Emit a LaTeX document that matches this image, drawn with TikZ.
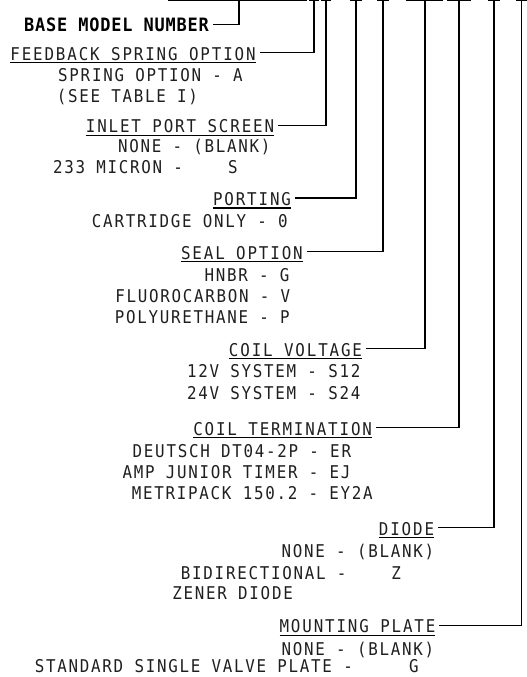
\documentclass[tikz,border=0pt]{standalone}
\usepackage{fontspec}
\usetikzlibrary{calc}
\newfontfamily\cadbodyfont{DejaVu Sans Mono}[FakeStretch=0.9,LetterSpace=9.8]
\newfontfamily\cadheadfont{DejaVu Sans Mono}[FakeStretch=0.9,LetterSpace=10.6]
\newfontfamily\cadboldfont{DejaVu Sans Mono}[FakeStretch=0.92,LetterSpace=4.5]
\tikzset{
  txt/.style={inner sep=0pt, outer sep=0pt, anchor=base, text=black!88},
  bodytxt/.style={txt, font=\cadbodyfont\fontsize{17.6}{20}\selectfont},
  headtxt/.style={txt, font=\cadheadfont\fontsize{17.6}{20}\selectfont},
  boldtxt/.style={txt, text=black, font=\cadboldfont\bfseries\fontsize{18.4}{21}\selectfont},
  wire/.style={line width=1.25pt, black},
  uline/.style={line width=1.1pt, black},
  topseg/.style={line width=1.3pt, black},
}
\newcommand\cadunder[1]{\draw[uline] ($(#1.base west)+(0,2.5)$) -- ($(#1.base east)+(0,2.5)$);}
\newcommand\cadconn[2]{\coordinate (#1-c) at ($(#1.base east)+(4,-7.5)$); \draw[wire] (#1-c) -| (#2);}
\begin{document}
\begin{tikzpicture}[x=1pt,y=-1pt]
\useasboundingbox (0,0) rectangle (527,677);
% top code positions
\coordinate (tbase) at (239,0.3);
\coordinate (tfeed) at (314,0.3);
\coordinate (tinlet) at (326,0.3);
\coordinate (tport) at (356,0.3);
\coordinate (tseal) at (383,0.3);
\coordinate (tcv) at (425,0.3);
\coordinate (tct) at (459,0.3);
\coordinate (tdi) at (494,0.3);
\coordinate (tmp) at (521.5,0.3);
\foreach \a/\b in {168/307, 309/319, 321/331, 350/362, 377/389, 406/443, 447/471, 488/500, 516/528}
  \draw[topseg] (\a,0.8) -- (\b,0.8);
% texts
\node[boldtxt] (base) at (116.5,31.7) {BASE MODEL NUMBER};
\node[headtxt] (feed) at (133,60.3) {FEEDBACK SPRING OPTION};
\node[bodytxt] (feed1) at (150.5,81.8) {SPRING OPTION - A};
\node[bodytxt] (feed2) at (127.4,102.5) {(SEE TABLE I)};
\node[headtxt] (inlet) at (180,132.7) {INLET PORT SCREEN};
\node[bodytxt] (inlet1) at (194.3,152.8) {NONE - (BLANK)};
\node[bodytxt] (inlet2) at (145.3,173.6) {233 MICRON -\ \ \ \ S};
\node[headtxt] (port) at (252,205.5) {PORTING};
\node[bodytxt] (port1) at (189.9,227.3) {CARTRIDGE ONLY - 0};
\node[headtxt] (seal) at (241.9,259.2) {SEAL OPTION};
\node[bodytxt] (seal1) at (247,281) {HNBR - G};
\node[bodytxt] (seal2) at (202.8,302) {FLUOROCARBON - V};
\node[bodytxt] (seal3) at (202.3,323.5) {POLYURETHANE - P};
\node[headtxt] (cv) at (295.5,356.3) {COIL VOLTAGE};
\node[bodytxt] (cv1) at (273.7,377.8) {12V SYSTEM - S12};
\node[bodytxt] (cv2) at (273.7,399) {24V SYSTEM - S24};
\node[headtxt] (ct) at (282.6,435.2) {COIL TERMINATION};
\node[bodytxt] (ct1) at (241.9,457.8) {DEUTSCH DT04-2P - ER};
\node[bodytxt] (ct2) at (236.5,478.6) {AMP JUNIOR TIMER - EJ};
\node[bodytxt] (ct3) at (252.3,499.8) {METRIPACK 150.2 - EY2A};
\node[headtxt] (di) at (406.5,535.3) {DIODE};
\node[bodytxt] (di1) at (357.9,557.8) {NONE - (BLANK)};
\node[bodytxt] (di2) at (291,579) {BIDIRECTIONAL -\ \ \ \ Z};
\node[bodytxt] (di3) at (232.6,599) {ZENER DIODE};
\node[headtxt] (mp) at (357.5,632.7) {MOUNTING PLATE};
\node[bodytxt] (mp1) at (357.9,655.2) {NONE - (BLANK)};
\node[bodytxt] (mp2) at (226.8,672.6) {STANDARD SINGLE VALVE PLATE -\ \ \ \ \ G};
% underlines
\foreach \n in {feed,inlet,port,seal,cv,ct,di,mp} {\cadunder{\n}}
% connectors
\cadconn{base}{tbase}
\cadconn{feed}{tfeed}
\cadconn{inlet}{tinlet}
\cadconn{port}{tport}
\cadconn{seal}{tseal}
\cadconn{cv}{tcv}
\cadconn{ct}{tct}
\cadconn{di}{tdi}
\cadconn{mp}{tmp}
\end{tikzpicture}
\end{document}
